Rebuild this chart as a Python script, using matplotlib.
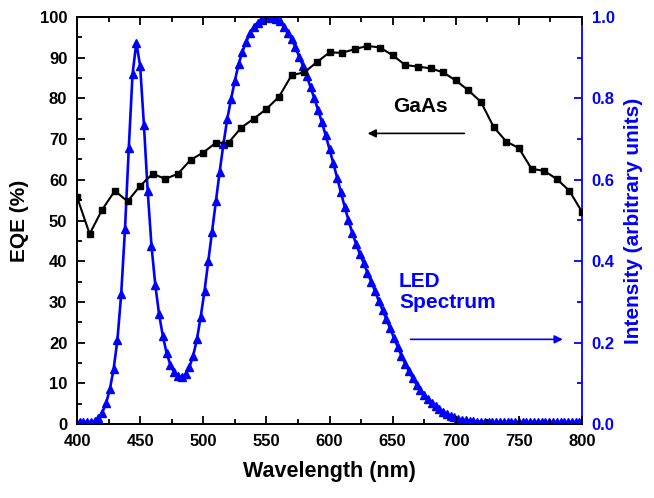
import numpy as np
import matplotlib
matplotlib.use("Agg")
import matplotlib.pyplot as plt
from matplotlib.ticker import MultipleLocator

plt.rcParams['font.family'] = ['Liberation Sans', 'DejaVu Sans']
plt.rcParams['font.weight'] = 'bold'

# GaAs EQE (%)
eqe_wl = [400, 410, 420, 430, 440, 450, 460, 470, 480, 490, 500, 510, 520, 530, 540,
          550, 560, 570, 580, 590, 600, 610, 620, 630, 640, 650, 660, 670, 680, 690,
          700, 710, 720, 730, 740, 750, 760, 770, 780, 790, 800]
eqe = [55.8, 46.7, 52.7, 57.3, 54.7, 58.5, 61.5, 60.2, 61.5, 64.9, 66.7, 69.1, 69.1, 72.8, 75.0,
       77.4, 80.4, 85.7, 86.4, 88.9, 91.3, 91.2, 92.1, 92.9, 92.5, 90.6, 88.2, 87.8, 87.4, 86.4,
       84.4, 82.0, 79.1, 73.0, 69.4, 67.8, 62.7, 62.2, 60.2, 57.3, 52.1]

# LED spectrum (arbitrary units), sampled every 3 nm from 399 nm
led_wl = np.arange(399, 799, 3)
led = [0.005, 0.005, 0.005, 0.005, 0.005, 0.007, 0.014, 0.028, 0.051, 0.085,
       0.135, 0.206, 0.319, 0.478, 0.677, 0.860, 0.937, 0.880, 0.735, 0.572,
       0.438, 0.342, 0.270, 0.216, 0.174, 0.145, 0.127, 0.117, 0.115, 0.122,
       0.139, 0.168, 0.208, 0.264, 0.327, 0.400, 0.472, 0.547, 0.620, 0.688,
       0.749, 0.798, 0.843, 0.884, 0.915, 0.939, 0.960, 0.975, 0.986, 0.993,
       0.997, 0.999, 0.998, 0.996, 0.990, 0.976, 0.960, 0.945, 0.926, 0.902,
       0.880, 0.855, 0.827, 0.800, 0.771, 0.741, 0.709, 0.675, 0.641, 0.605,
       0.569, 0.534, 0.501, 0.470, 0.443, 0.418, 0.396, 0.372, 0.350, 0.327,
       0.303, 0.280, 0.258, 0.235, 0.212, 0.190, 0.168, 0.148, 0.129, 0.112,
       0.097, 0.084, 0.072, 0.061, 0.051, 0.043, 0.036, 0.030, 0.025, 0.020,
       0.016, 0.013, 0.011, 0.009, 0.008, 0.007, 0.006, 0.006, 0.005, 0.005,
       0.005, 0.005, 0.005, 0.005, 0.005, 0.005, 0.005, 0.005, 0.005, 0.005,
       0.005, 0.005, 0.005, 0.005, 0.005, 0.005, 0.005, 0.005, 0.005, 0.005,
       0.005, 0.005, 0.005, 0.005]

BLUE = '#0000ff'

fig = plt.figure(figsize=(6.54, 4.98), dpi=100)
ax = fig.add_axes([77/654, 1 - 424/498, (582 - 77)/654, (424 - 17)/498])
ax2 = ax.twinx()

ax.plot(eqe_wl, eqe, color='black', lw=1.5, marker='s', ms=5.0, zorder=3)
ax2.plot(led_wl, led, color=BLUE, lw=1.9, marker='^', ms=6.0, zorder=2)

ax.set_zorder(ax2.get_zorder() + 1)
ax.patch.set_visible(False)

ax.set_xlim(400, 800)
ax.set_ylim(0, 100)
ax2.set_ylim(0, 1.0)

ax.xaxis.set_major_locator(MultipleLocator(50))
ax.xaxis.set_minor_locator(MultipleLocator(25))
ax.yaxis.set_major_locator(MultipleLocator(10))
ax.yaxis.set_minor_locator(MultipleLocator(5))
ax2.yaxis.set_major_locator(MultipleLocator(0.2))
ax2.yaxis.set_minor_locator(MultipleLocator(0.1))

ax.tick_params(axis='both', which='both', direction='in', width=1.3, labelsize=12)
ax.tick_params(axis='x', which='both', top=True, pad=7)
ax.tick_params(axis='y', pad=7)
ax.tick_params(which='major', length=6)
ax.tick_params(which='minor', length=3.5)
ax.tick_params(axis='y', right=False)
ax2.tick_params(axis='y', which='both', direction='in', colors=BLUE, width=1.3,
                labelsize=12, pad=7)
ax2.tick_params(which='major', length=6)
ax2.tick_params(which='minor', length=3.5)
ax2.set_yticks(ax2.get_yticks())
ax2.set_yticklabels([f"{v:.1f}" for v in ax2.get_yticks()])
ax2.set_ylim(0, 1.0)

for s in ax.spines.values():
    s.set_linewidth(1.3)
for s in ax2.spines.values():
    s.set_linewidth(1.3)
ax2.spines['right'].set_color(BLUE)
ax.spines['right'].set_visible(False)

ax.set_xlabel('Wavelength (nm)', fontsize=15.5, fontweight='bold', labelpad=9)
ax.set_ylabel('EQE (%)', fontsize=15, fontweight='bold', labelpad=8)
ax2.set_ylabel('Intensity (arbitrary units)', fontsize=15, fontweight='bold', color=BLUE,
               labelpad=7)

ax.text(672, 78, 'GaAs', fontsize=15, fontweight='bold', ha='center', va='center')
ax.annotate('', xy=(628, 71.4), xytext=(709, 71.4),
            arrowprops=dict(arrowstyle='-|>', color='black', lw=1.2, mutation_scale=12))
ax.text(655, 32.5, 'LED\nSpectrum', fontsize=15, fontweight='bold', color=BLUE,
        ha='left', va='center', linespacing=1.15)
ax.annotate('', xy=(787, 20.8), xytext=(662, 20.8),
            arrowprops=dict(arrowstyle='-|>', color=BLUE, lw=1.2, mutation_scale=12))

fig.savefig('out.png', dpi=100)
